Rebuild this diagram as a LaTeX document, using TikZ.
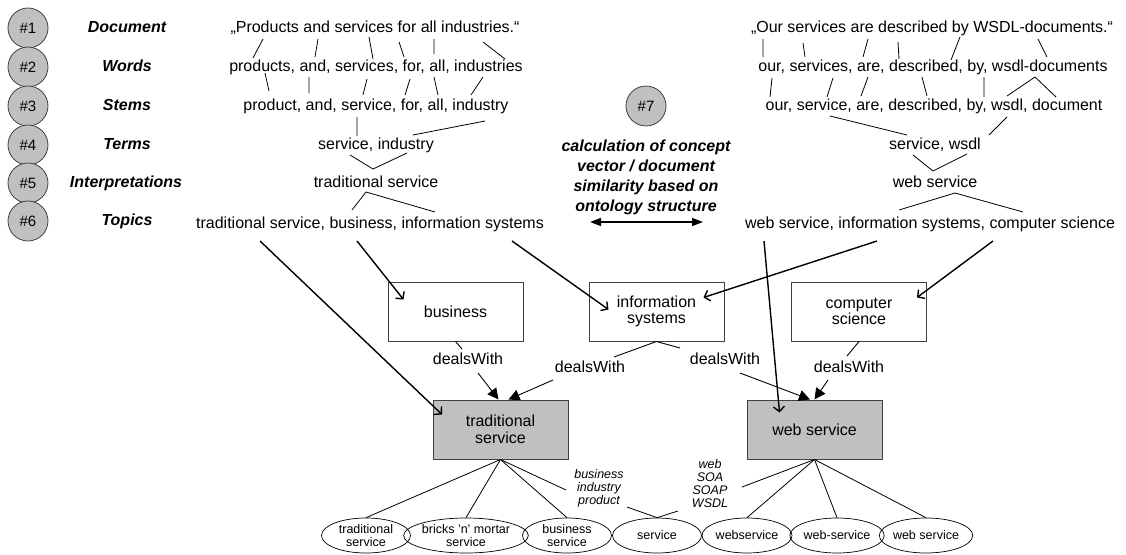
\documentclass[tikz,border=0pt]{standalone}
\usepackage{fontspec}
\setmainfont{Liberation Sans}
\usetikzlibrary{arrows.meta,shapes.geometric}
\definecolor{boxgray}{HTML}{C0C0C0}
\definecolor{edgegray}{HTML}{404040}
\begin{document}
\begin{tikzpicture}[x=1pt,y=-1pt,
  txt/.style={inner sep=0pt,text height=12pt,text depth=3.5pt,font=\fontsize{16}{19}\selectfont},
  lbl/.style={inner sep=0pt,text height=12pt,text depth=3.5pt,font=\fontsize{16}{19}\selectfont\bfseries\itshape},
  calcstyle/.style={inner sep=0pt,align=center,font=\fontsize{16}{20}\selectfont\bfseries\itshape},
  num/.style={circle,draw=edgegray,fill=boxgray,line width=0.8pt,minimum size=40pt,inner sep=0pt,font=\fontsize{15}{18}\selectfont},
  box/.style={draw=edgegray,line width=1pt,minimum width=135pt,minimum height=59pt,inner sep=0pt,align=center,font=\fontsize{16}{16.5}\selectfont},
  gbox/.style={box,fill=boxgray},
  ell/.style={ellipse,draw=black,line width=0.7pt,minimum height=35pt,inner sep=0pt,align=center,font=\fontsize{12.5}{13.5}\selectfont},
  syn/.style={inner sep=0pt,align=center,font=\fontsize{12.5}{13}\selectfont\itshape},
  wordlink/.style={draw=black,line width=0.8pt},
  rel/.style={draw=black,line width=0.9pt},
  relarrow/.style={rel,-{Triangle[length=11pt,width=11pt]}},
  topic/.style={draw=black,line width=1.4pt,-{Straight Barb[length=5pt,width=11pt]}},
  sim/.style={draw=black,line width=1.4pt,{Triangle[length=11pt,width=8pt]}-{Triangle[length=11pt,width=8pt]}}
]
\useasboundingbox (0,0) rectangle (1126,554);

% step circles and labels
\node[num] (n1) at (28,28) {\#1};
\node[num] (n2) at (28,67) {\#2};
\node[num] (n3) at (28,106) {\#3};
\node[num] (n4) at (28,145) {\#4};
\node[num] (n5) at (28,183) {\#5};
\node[num] (n6) at (28,221) {\#6};
\node[lbl] (l1) at (127,28) {Document};
\node[lbl] (l2) at (127,67) {Words};
\node[lbl] (l3) at (127,106) {Stems};
\node[lbl] (l4) at (127,145) {Terms};
\node[lbl] (l5) at (126,183) {Interpretations};
\node[lbl] (l6) at (127,221) {Topics};

% left document
\node[txt] (a1) at (375,28) {„Products and services for all industries.“};
\node[txt] (a2) at (376,67) {products, and, services, for, all, industries};
\node[txt] (a3) at (376,106) {product, and, service, for, all, industry};
\node[txt] (a4) at (376,145) {service, industry};
\node[txt] (a5) at (376,183) {traditional service};
\node[txt] (a6) at (370,224) {traditional service, business, information systems};

% right document
\node[txt] (b1) at (932,28) {„Our services are described by WSDL-documents.“};
\node[txt] (b2) at (933,67) {our, services, are, described, by, wsdl-documents};
\node[txt] (b3) at (934,106) {our, service, are, described, by, wsdl, document};
\node[txt] (b4) at (935,145) {service, wsdl};
\node[txt] (b5) at (935,183) {web service};
\node[txt] (b6) at (930,224) {web service, information systems, computer science};

% word links left
\draw[wordlink] (263,39)--(253,58) (318,39)--(315,57) (369,37)--(373,59) (399,42)--(404,57) (434,39)--(434,54) (483,42)--(505,59);
\draw[wordlink] (265,73)--(269,91) (309,77)--(309,93) (367,79)--(363,95) (410,79)--(405,95) (434,77)--(438,95) (483,77)--(471,95);
\draw[wordlink] (357,117)--(357,136) (485,121)--(413,135);
\draw[wordlink] (350,155)--(373,169)--(407,153);
\draw[wordlink] (352,210)--(366,192)--(435,212);
% word links right
\draw[wordlink] (763,39)--(763,57) (803,43)--(805,57) (868,39)--(863,57) (898,42)--(899,59) (960,37)--(951,60) (1038,39)--(1047,57);
\draw[wordlink] (772,78)--(770,97) (833,78)--(827,97) (868,77)--(861,96) (922,77)--(927,96) (984,77)--(984,97) (1007,96)--(1035,77)--(1056,97);
\draw[wordlink] (830,116)--(907,135) (1007,117)--(989,135);
\draw[wordlink] (913,155)--(933,171)--(967,154);
\draw[wordlink] (899,210)--(955,193)--(1023,212);

% step 7
\node[num] (n7) at (646,106) {\#7};
\node[calcstyle] (calc) at (646,177.5) {calculation of concept\\vector / document\\similarity based on\\ontology structure};
\coordinate (simL) at (590,222);
\coordinate (simR) at (703,222);
\draw[sim] (simL) -- (simR);

% concept boxes
\node[box] (bus) at (455.5,311.5) {business};
\node[box] (inf) at (656.5,311.5) {information\\systems};
\node[box] (cs) at (859,311.5) {computer\\science};
\node[gbox] (trad) at (500.5,429.5) {traditional\\service};
\node[gbox] (web) at (814.5,429.5) {web service};

% topic arrows
\coordinate (t1) at (260,241);
\coordinate (t2) at (357,241);
\coordinate (t3) at (512,241);
\coordinate (t4) at (764,241);
\coordinate (t5) at (877,241);
\coordinate (t6) at (993,241);
\draw[topic] (t1) -- ([shift={(9.5,15)}]trad.north west);
\draw[topic] (t2) -- ([shift={(16,18)}]bus.north west);
\draw[topic] (t3) -- ([shift={(20,28)}]inf.north west);
\draw[topic] (t4) -- ([shift={(33,13)}]web.north west);
\draw[topic] (t5) -- ([shift={(-21,16)}]inf.north east);
\draw[topic] (t6) -- ([shift={(-10,16)}]cs.north east);

% dealsWith relations
\node[txt] (d1) at (468,360) {dealsWith};
\node[txt] (d2) at (590,368) {dealsWith};
\node[txt] (d3) at (725,360) {dealsWith};
\node[txt] (d4) at (849,368) {dealsWith};
\coordinate (d1a) at (462,349); \coordinate (d1b) at (478,373);
\coordinate (d2a) at (614,357); \coordinate (d2b) at (553,380);
\coordinate (d3a) at (680,348); \coordinate (d3b) at (740,373);
\coordinate (d4a) at (847,356); \coordinate (d4b) at (828,380);
\draw[rel] (bus.south) -- (d1a);
\draw[relarrow] (d1b) -- ([xshift=-2pt]trad.north);
\draw[rel] (inf.south) -- (d2a);
\draw[relarrow] (d2b) -- ([xshift=8pt]trad.north);
\draw[rel] (inf.south) -- (d3a);
\draw[relarrow] (d3b) -- ([xshift=-4.5pt]web.north);
\draw[rel] (cs.south) -- (d4a);
\draw[relarrow] (d4b) -- (web.north);

% lexical entries
\node[ell,minimum width=89pt] (e1) at (366,535.5) {traditional\\service};
\node[ell,minimum width=113pt] (e2) at (466,535.5) {bricks 'n' mortar\\service};
\node[ell,minimum width=89pt] (e3) at (567,535.5) {business\\service};
\node[ell,minimum width=89pt] (e4) at (657,535.5) {service};
\node[ell,minimum width=90pt] (e5) at (747,535.5) {webservice};
\node[ell,minimum width=90pt] (e6) at (837,535.5) {web-service};
\node[ell,minimum width=89pt] (e7) at (926,535.5) {web service};

\node[syn] (s1) at (599,488) {business\\industry\\product};
\node[syn] (s2) at (710,483.5) {web\\SOA\\SOAP\\WSDL};
\coordinate (s1a) at (566,490); \coordinate (s1b) at (627,507);
\coordinate (s2a) at (742,487); \coordinate (s2b) at (678,511);

\draw[wordlink] (trad.south) -- (e1.north);
\draw[wordlink] (trad.south) -- (e2.north);
\draw[wordlink] (trad.south) -- (e3.north);
\draw[wordlink] (trad.south) -- (s1a);
\draw[wordlink] (s1b) -- (e4.north);
\draw[wordlink] (web.south) -- (s2a);
\draw[wordlink] (s2b) -- (e4.north);
\draw[wordlink] (web.south) -- (e5.north);
\draw[wordlink] (web.south) -- (e6.north);
\draw[wordlink] (web.south) -- (e7.north);
\end{tikzpicture}
\end{document}
